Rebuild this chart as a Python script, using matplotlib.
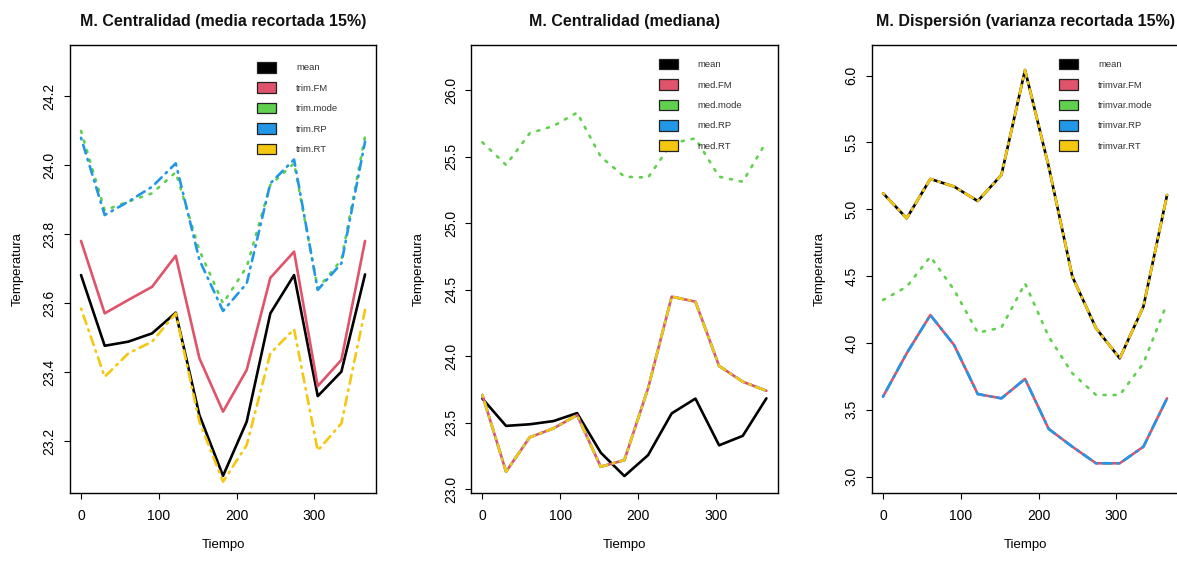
import matplotlib
matplotlib.use("Agg")
import matplotlib.pyplot as plt
from matplotlib.patches import Patch

plt.rcParams['font.family'] = ['Liberation Sans', 'DejaVu Sans']

# time axis (days)
tiempo = [0, 30.4, 60.8, 91.3, 121.7, 152.1, 182.5, 212.9, 243.3, 273.8, 304.2, 334.6, 365]

# panel 1: trimmed means (15%)
mean_t = [23.682, 23.477, 23.489, 23.513, 23.573, 23.276, 23.100, 23.257, 23.571, 23.682, 23.331, 23.402, 23.684]
trim_fm = [23.781, 23.571, 23.610, 23.648, 23.738, 23.441, 23.286, 23.407, 23.674, 23.750, 23.360, 23.436, 23.781]
trim_mode = [24.100, 23.870, 23.895, 23.919, 23.980, 23.754, 23.600, 23.706, 23.943, 24.006, 23.643, 23.726, 24.085]
trim_rp = [24.080, 23.856, 23.895, 23.938, 24.006, 23.726, 23.578, 23.658, 23.948, 24.017, 23.639, 23.716, 24.069]
trim_rt = [23.585, 23.387, 23.455, 23.489, 23.571, 23.257, 23.083, 23.189, 23.455, 23.525, 23.173, 23.252, 23.581]

# panel 2: medians
med_fm = [23.709, 23.133, 23.391, 23.458, 23.558, 23.170, 23.220, 23.759, 24.448, 24.410, 23.927, 23.809, 23.741]
med_mode = [25.607, 25.437, 25.675, 25.730, 25.830, 25.499, 25.349, 25.342, 25.600, 25.637, 25.349, 25.311, 25.612]
med_rp = med_fm
med_rt = med_fm

# panel 3: trimmed variances (15%)
var_mean = [5.120, 4.933, 5.227, 5.170, 5.062, 5.257, 6.042, 5.320, 4.496, 4.110, 3.885, 4.272, 5.107]
var_fm = [3.599, 3.923, 4.209, 3.985, 3.618, 3.586, 3.731, 3.357, 3.224, 3.100, 3.100, 3.224, 3.586]
var_mode = [4.322, 4.421, 4.646, 4.397, 4.077, 4.115, 4.446, 4.047, 3.773, 3.611, 3.611, 3.848, 4.297]
var_rp = var_fm
var_rt = var_mean

colores = ['#000000', '#DF536B', '#61D04F', '#2297E6', '#F5C710']
estilos = ['-', '-', (0, (0.8, 3.0)), (0, (0.6, 2.2, 3.4, 2.2)), (0, (0.6, 2.2, 3.4, 2.2))]

paneles = [
    ('M. Centralidad (media recortada 15%)', [mean_t, trim_fm, trim_mode, trim_rp, trim_rt],
     ['mean', 'trim.FM', 'trim.mode', 'trim.RP', 'trim.RT'],
     (23.051, 24.349), [23.2, 23.4, 23.6, 23.8, 24.0, 24.2], 0.962),
    ('M. Centralidad (mediana)', [mean_t, med_fm, med_mode, med_rp, med_rt],
     ['mean', 'med.FM', 'med.mode', 'med.RP', 'med.RT'],
     (22.975, 26.338), [23.0, 23.5, 24.0, 24.5, 25.0, 25.5, 26.0], 0.969),
    ('M. Dispersión (varianza recortada 15%)', [var_mean, var_fm, var_mode, var_rp, var_rt],
     ['mean', 'trimvar.FM', 'trimvar.mode', 'trimvar.RP', 'trimvar.RT'],
     (2.880, 6.229), [3.0, 3.5, 4.0, 4.5, 5.0, 5.5, 6.0], 0.969),
]

lefts = [0.0592, 0.4002, 0.7406]
fig = plt.figure(figsize=(11.77, 5.70), dpi=100)

for left, (titulo, series, nombres, ylim, yt, ytop) in zip(lefts, paneles):
    ax = fig.add_axes([left, 0.1356, 0.2606, 0.7854])
    for s, c, ls in zip(series, colores, estilos):
        ln, = ax.plot(tiempo, s, color=c, lw=1.9, linestyle=ls)
        ln.set_dash_capstyle('round')
        ln.set_solid_capstyle('round')
    ax.set_xlim(-14.6, 379.6)
    ax.set_ylim(*ylim)
    ax.set_xticks([0, 100, 200, 300])
    ax.set_yticks(yt)
    ax.set_yticklabels(['%.1f' % v for v in yt], rotation=90, va='center')
    ax.tick_params(direction='out', length=4.5, width=0.8, labelsize=10)
    ax.tick_params(axis='x', pad=7)
    ax.tick_params(axis='y', pad=5)
    for sp in ax.spines.values():
        sp.set_linewidth(1.0)
    ax.set_title(titulo, fontsize=11.5, fontweight='bold', pad=14, color='#111111')
    ax.set_xlabel('Tiempo', fontsize=9.5)
    ax.set_ylabel('Temperatura', fontsize=9.5)
    ax.xaxis.label.set_va('center')
    ax.yaxis.label.set_va('center')
    ax.xaxis.set_label_coords(0.5, -0.117)
    ax.yaxis.set_label_coords(-0.17, 0.5)

    handles = [Patch(facecolor=c, edgecolor='#222222', linewidth=0.9) for c in colores]
    leg = ax.legend(handles, nombres, loc='upper left', bbox_to_anchor=(0.612, ytop),
                    frameon=False, fontsize=6.8, handlelength=2.0, handleheight=1.33,
                    labelspacing=1.05, handletextpad=2.1, borderpad=0, borderaxespad=0)
    for t in leg.get_texts():
        t.set_color('#333333')

fig.savefig('out.png', dpi=100)
